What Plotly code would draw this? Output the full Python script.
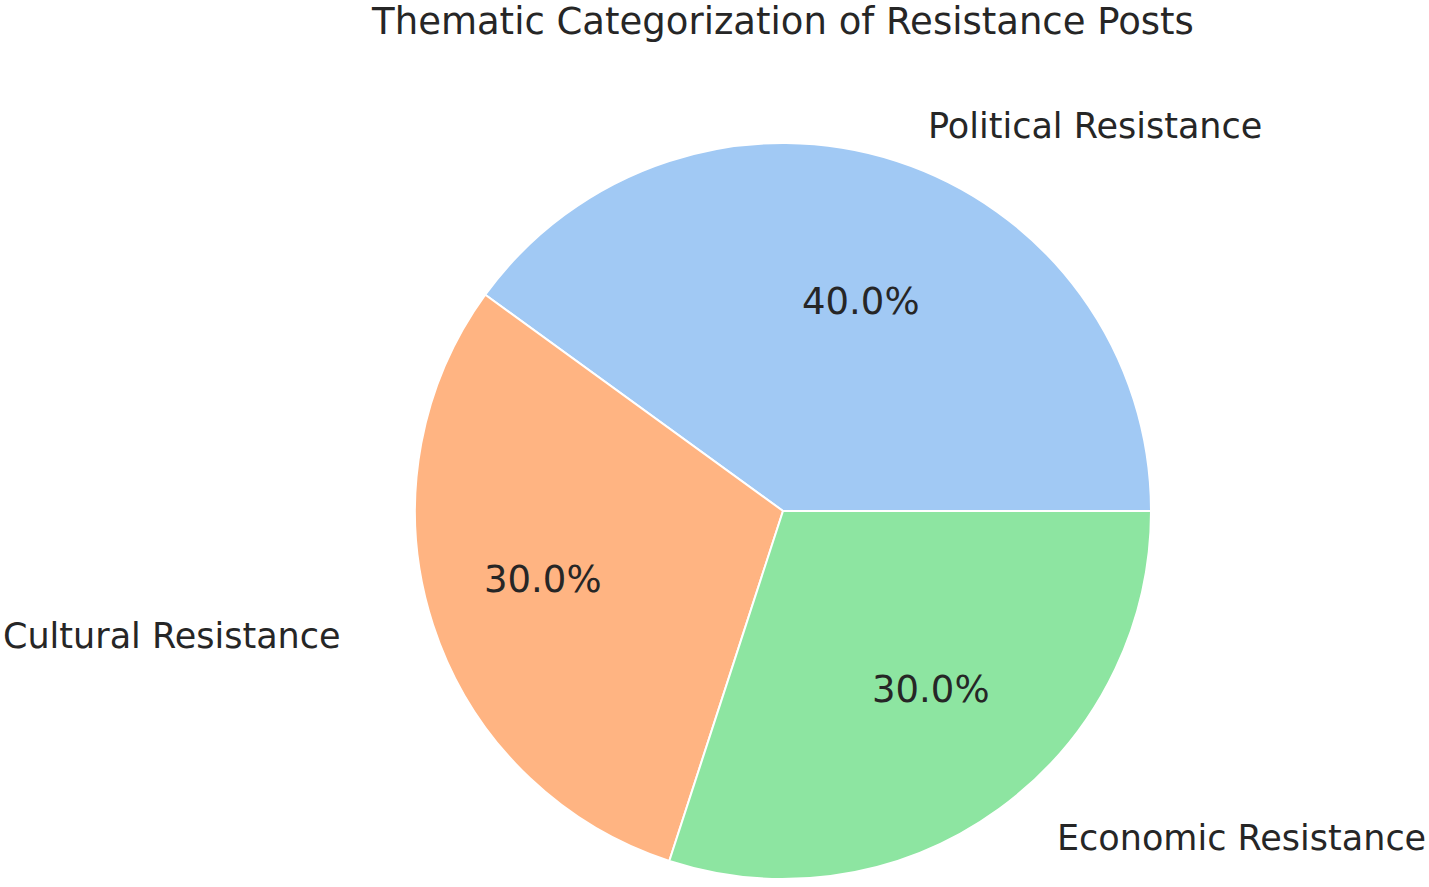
import math
import plotly.graph_objects as go

categories = ["Political Resistance", "Cultural Resistance", "Economic Resistance"]
values = [40, 30, 30]
colors = ["#a1c9f4", "#ffb482", "#8de5a1"]
title_text = "Thematic Categorization of Resistance Posts"

W, H = 1429, 887
cx, cy, r = 783, 511, 368   # pixel layout of the pie
rx, ry = 421, 368           # label-placement radii (reference is stretched horizontally)
label_dist, pct_dist = 1.1, 0.6

dom_x = [(cx - r) / W, (cx + r) / W]
dom_y = [1 - (cy + r) / H, 1 - (cy - r) / H]

# first slice starts at 3 o'clock, going counterclockwise
rot = 90 - 360 * values[0] / sum(values)

font_family = "DejaVu Sans, Verdana, sans-serif"
text_color = "#262626"

fig = go.Figure()
fig.add_trace(go.Pie(
    labels=categories,
    values=values,
    sort=False,
    direction="counterclockwise",
    rotation=rot,
    marker=dict(colors=colors, line=dict(color="white", width=2)),
    textinfo="none",
    domain=dict(x=dom_x, y=dom_y),
    hoverinfo="label+percent",
    showlegend=False,
))

# labels and percentages placed like matplotlib's pie (label at 1.1 r, pct at 0.6 r)
total = sum(values)
start = 0.0
annotations = []
for cat, v in zip(categories, values):
    frac = v / total
    mid = math.radians(360 * (start + frac / 2))
    start += frac
    c, s = math.cos(mid), math.sin(mid)
    lx = cx + label_dist * rx * c
    ly = cy - label_dist * ry * s
    annotations.append(dict(
        x=lx / W, y=1 - ly / H, xref="paper", yref="paper",
        text=cat, showarrow=False,
        xanchor="left" if c > 0 else "right", yanchor="middle",
        font=dict(family=font_family, size=35, color=text_color),
    ))
    px = cx + pct_dist * rx * c
    py = cy - pct_dist * ry * s
    annotations.append(dict(
        x=px / W, y=1 - py / H, xref="paper", yref="paper",
        text=f"{100 * frac:.1f}%", showarrow=False,
        xanchor="center", yanchor="middle",
        font=dict(family=font_family, size=37, color=text_color),
    ))

fig.update_layout(
    width=W, height=H,
    margin=dict(l=0, r=0, t=0, b=0),
    paper_bgcolor="white",
    plot_bgcolor="white",
    annotations=annotations,
    title=dict(text=title_text, x=cx / W, xanchor="center", y=1 - 21 / H, yanchor="middle",
               font=dict(family=font_family, size=37, color=text_color)),
)

fig.write_html("out.html", config={"displayModeBar": False},
               post_script="document.body.style.margin='0';")
